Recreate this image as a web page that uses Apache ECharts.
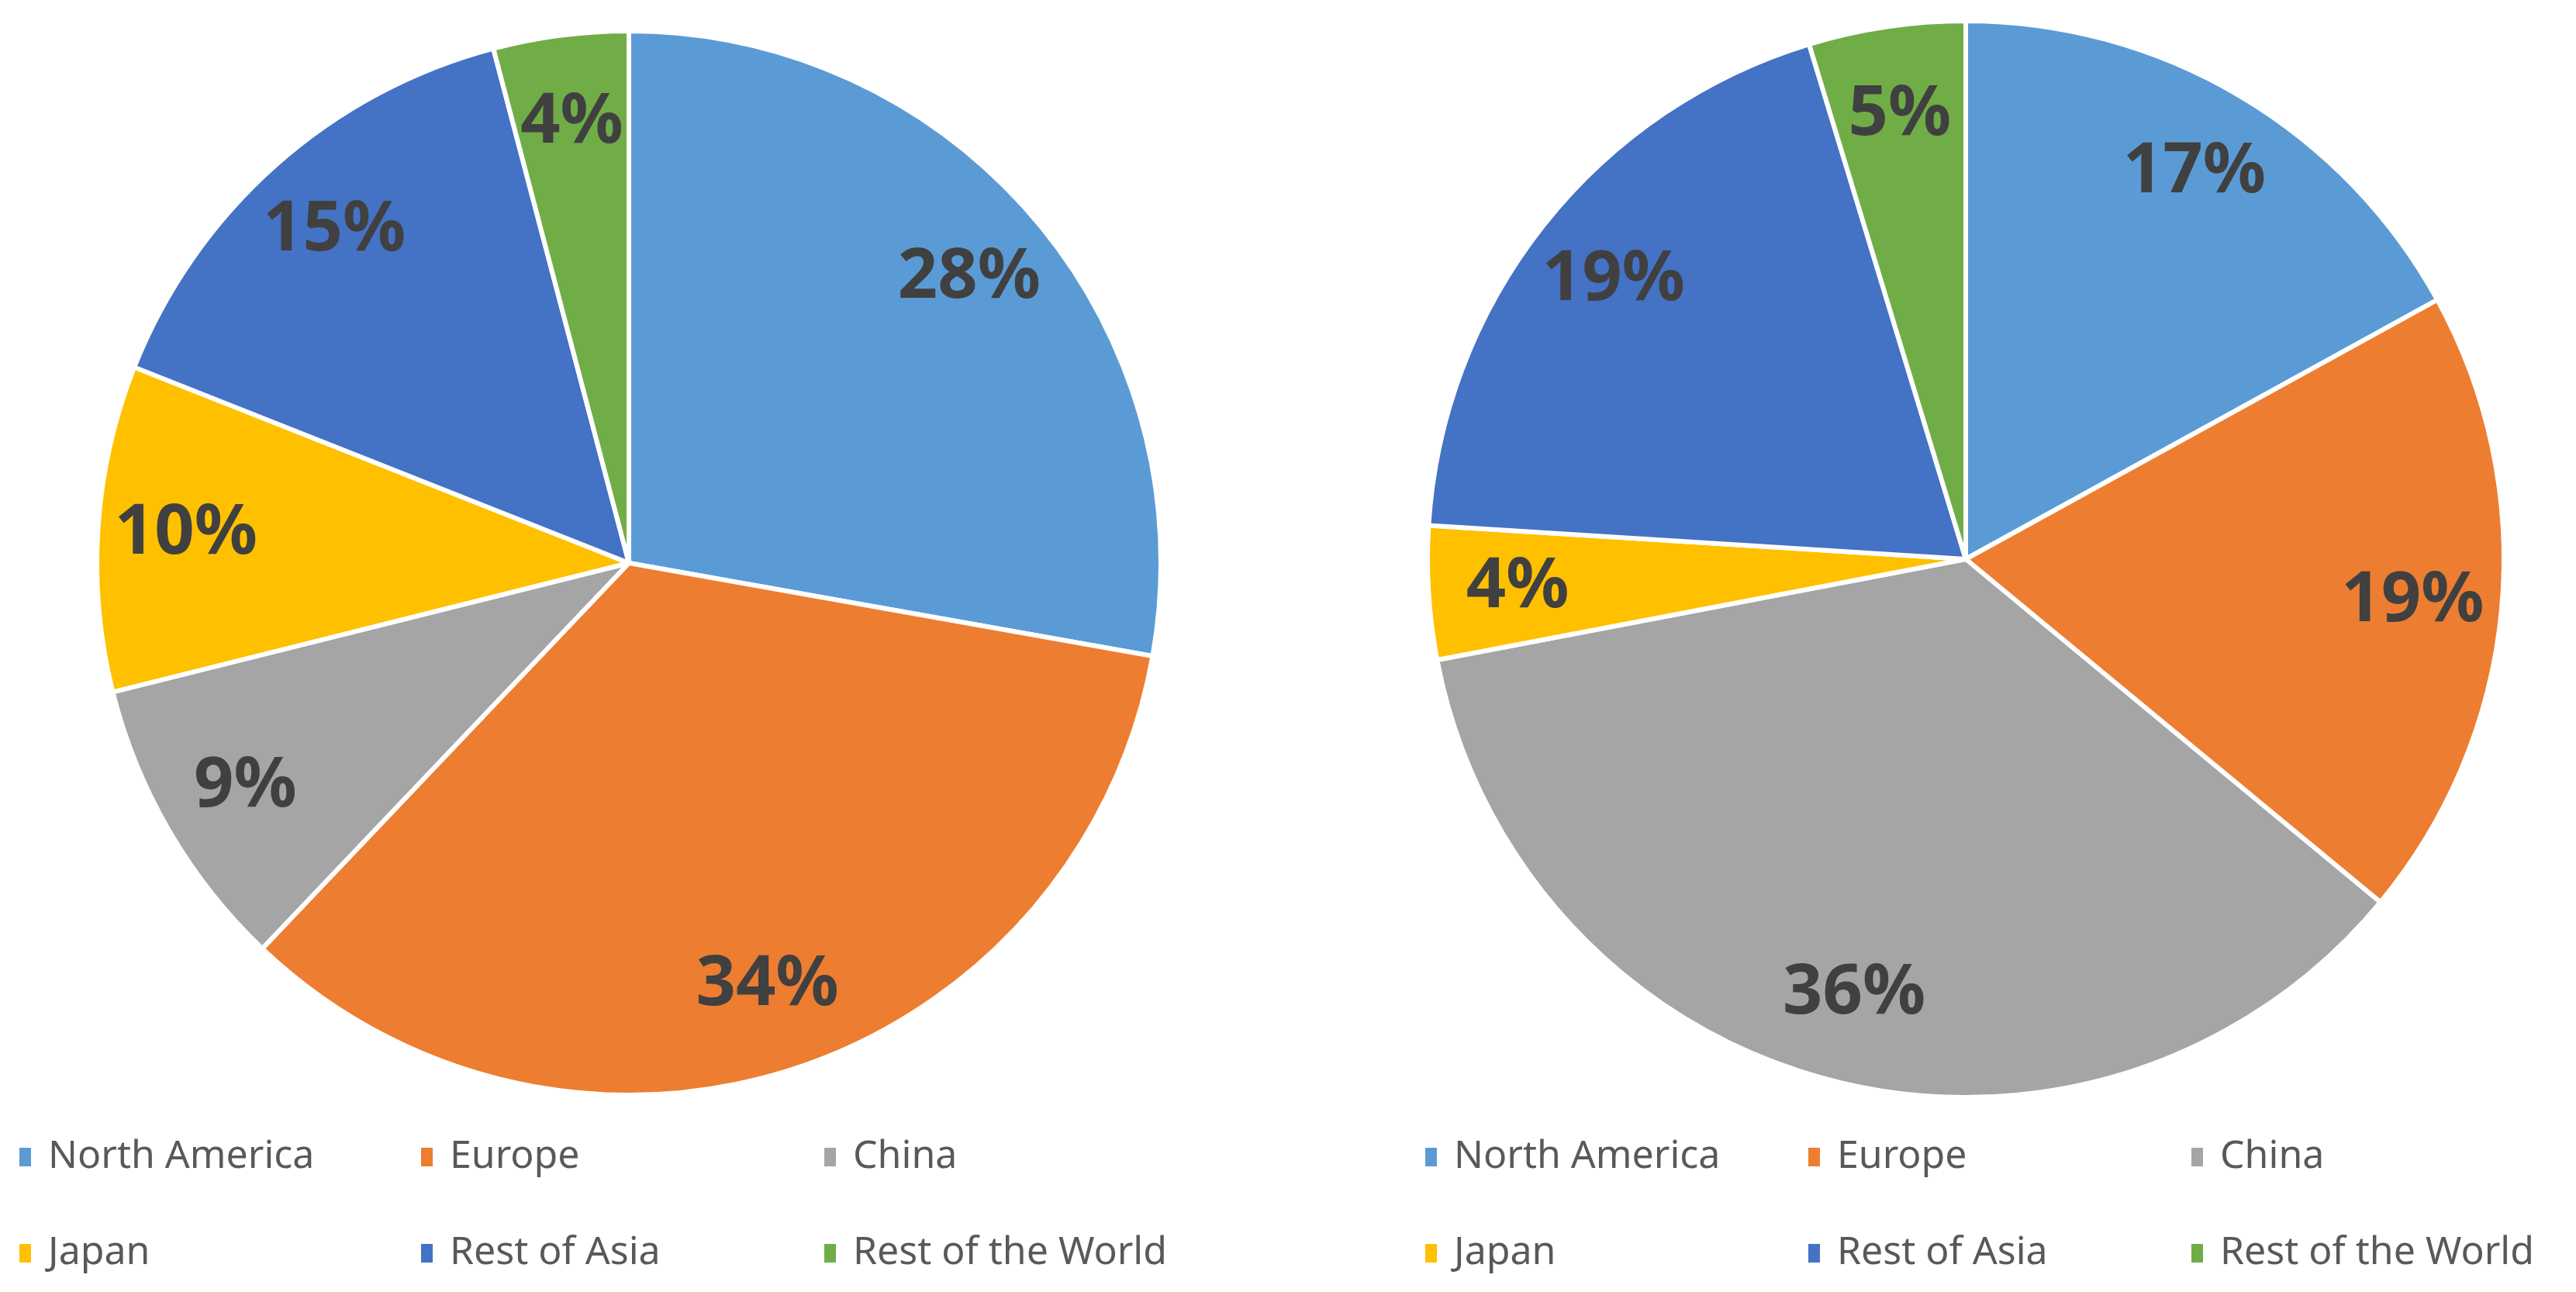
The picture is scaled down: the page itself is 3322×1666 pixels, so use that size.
<!DOCTYPE html>
<html lang="en" style="height: 100%">
<head>
  <meta charset="utf-8">
</head>
<body style="height: 100%; margin: 0; background: #fff">
  <div id="container" style="height: 100%"></div>

  <script type="text/javascript" src="https://fastly.jsdelivr.net/npm/echarts@6/dist/echarts.min.js"></script>
  <script type="text/javascript">
    // data (share of total, %)
    var regions = ['North America', 'Europe', 'China', 'Japan', 'Rest of Asia', 'Rest of the World'];
    var leftShares = [27.8, 34.3, 9.0, 9.9, 14.9, 4.1];
    var rightShares = [17.0, 19.0, 36.0, 4.0, 19.3, 4.7];

    var regionColors = ['#5B9BD5', '#ED7D31', '#A5A5A5', '#FFC000', '#4472C4', '#70AD47'];

    var dom = document.getElementById('container');
    var myChart = echarts.init(dom, null, {
      renderer: 'canvas',
      useDirtyRect: false
    });
    var option;

    function toData(shares) {
      return regions.map(function (name, i) {
        return { name: name, value: shares[i] };
      });
    }

    // the visible pie, white borders between slices
    function pieSeries(shares, center, r) {
      return {
        type: 'pie',
        center: center,
        radius: [0, r],
        startAngle: 90,
        clockwise: true,
        silent: true,
        label: { show: false },
        labelLine: { show: false },
        itemStyle: { borderColor: '#fff', borderWidth: 6 },
        data: toData(shares)
      };
    }

    // transparent ring on top, only to put the % labels further out (~0.83 r)
    function labelSeries(shares, center, r) {
      return {
        type: 'pie',
        center: center,
        radius: [Math.round(r * 0.66), r],
        startAngle: 90,
        clockwise: true,
        silent: true,
        itemStyle: { color: 'rgba(0,0,0,0)', borderWidth: 0 },
        label: {
          show: true,
          position: 'inside',
          formatter: function (p) {
            return Math.round(p.percent) + '%';
          },
          color: '#404040',
          fontSize: 90,
          fontWeight: 'bold',
          fontFamily: 'Noto Sans'
        },
        labelLine: { show: false },
        emphasis: { disabled: true },
        data: toData(shares)
      };
    }

    // one legend block per item so the columns line up like the original
    function legendItem(name, left, top) {
      return {
        data: [name],
        left: left,
        top: top,
        padding: 0,
        icon: 'rect',
        itemWidth: 17,
        itemHeight: 26,
        selectedMode: false,
        textStyle: {
          fontSize: 50,
          color: '#595959',
          fontFamily: 'Noto Sans',
          padding: [0, 0, 0, 16]
        }
      };
    }

    var leftCols = [23, 541, 1061];
    var rightCols = [1836, 2330, 2824];
    var rowTops = [1467, 1591];
    var legends = [];
    regions.forEach(function (name, i) {
      var col = i % 3;
      var row = Math.floor(i / 3);
      legends.push(legendItem(name, leftCols[col], rowTops[row]));
      legends.push(legendItem(name, rightCols[col], rowTops[row]));
    });

    option = {
      animation: false,
      backgroundColor: '#fff',
      color: regionColors,
      legend: legends,
      series: [
        pieSeries(leftShares, [811, 726], 686),
        pieSeries(rightShares, [2535, 721], 694),
        labelSeries(leftShares, [811, 726], 686),
        labelSeries(rightShares, [2535, 721], 694)
      ]
    };

    if (option && typeof option === 'object') {
      myChart.setOption(option);
    }

    window.addEventListener('resize', myChart.resize);
  </script>
</body>
</html>
